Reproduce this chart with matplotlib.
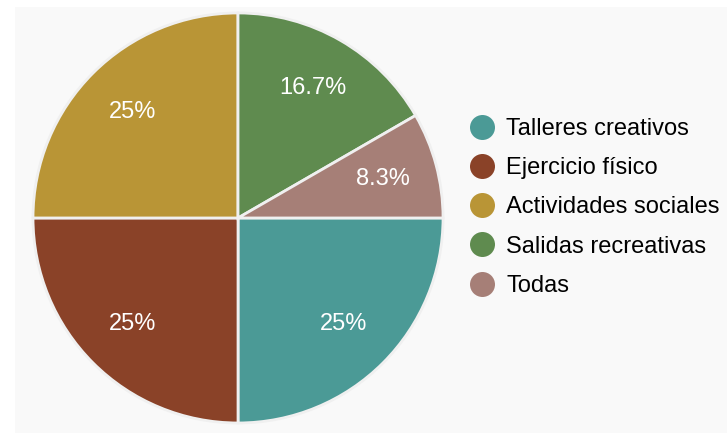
import matplotlib.pyplot as plt
from matplotlib.lines import Line2D
from matplotlib.patches import Rectangle

plt.rcParams['font.family'] = ['Liberation Sans', 'DejaVu Sans']

labels = ['Talleres creativos', 'Ejercicio físico', 'Actividades sociales',
          'Salidas recreativas', 'Todas']
values = [3, 3, 3, 2, 1]
colors = ['#4b9a96', '#8a4228', '#b99536', '#5f8b4f', '#a67f77']

fig = plt.figure(figsize=(7.27, 4.33), dpi=100)
fig.patches.append(Rectangle((15 / 727, 0), 1, 1 - 7 / 433, transform=fig.transFigure,
                             facecolor='#f9f9f9', edgecolor='none', zorder=-10))

ax = fig.add_axes([0.0454, 0.0231, 0.564, 0.947])
wedges, texts, autotexts = ax.pie(
    values, colors=colors, startangle=0, counterclock=False,
    autopct=lambda p: f'{p:.1f}%'.replace('.0%', '%'), pctdistance=0.73,
    wedgeprops=dict(edgecolor='#f0f0f0', linewidth=2),
    textprops=dict(color='white', fontsize=17))
ax.set_xlim(-1, 1)
ax.set_ylim(-1, 1)
ax.set_aspect('equal')

handles = [Line2D([], [], marker='o', linestyle='none', markersize=18,
                  markerfacecolor=c, markeredgecolor='none') for c in colors]
fig.legend(handles, labels, loc='center left', bbox_to_anchor=(0.633, 0.521),
           frameon=False, fontsize=17, handletextpad=0.5, labelspacing=0.73,
           handlelength=1.05, borderaxespad=0)

fig.savefig('out.png', dpi=100)
